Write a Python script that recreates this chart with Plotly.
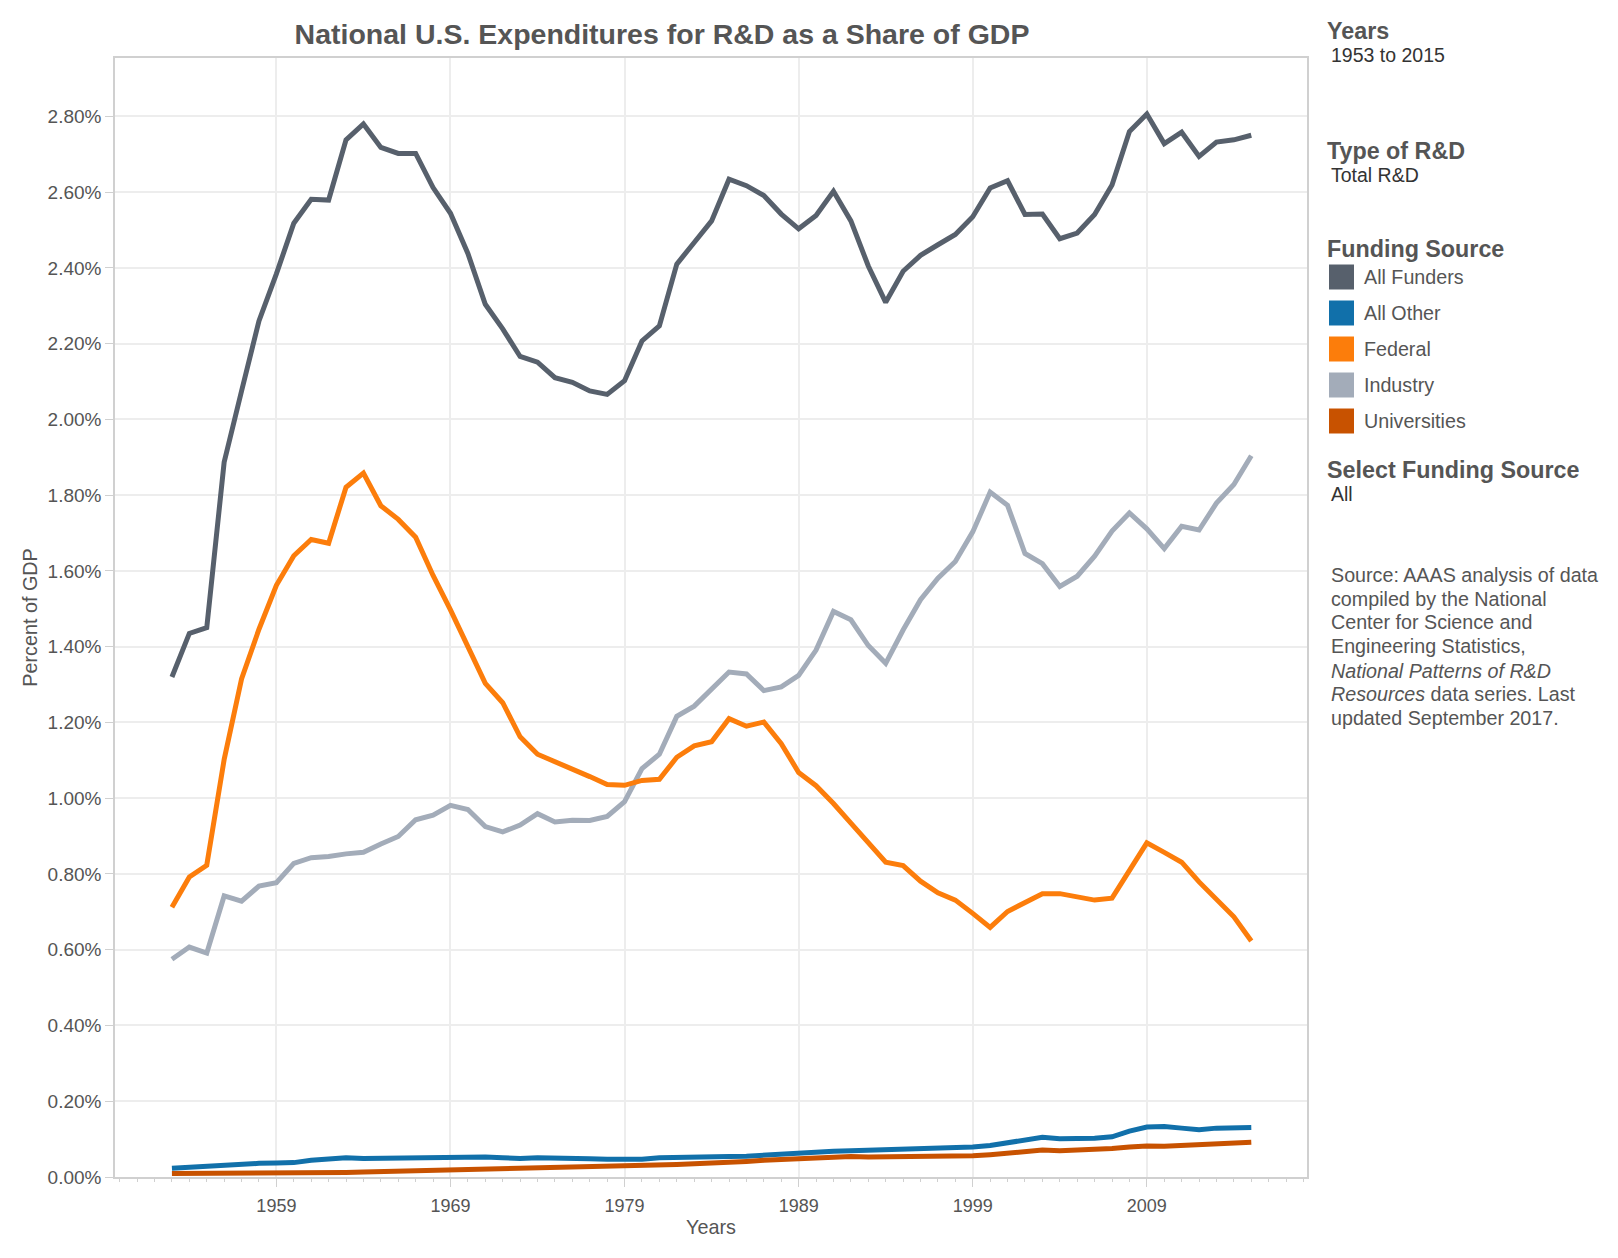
import plotly.graph_objects as go

# ---------------- data ----------------
years = list(range(1953, 2016))

all_funders = [1.32, 1.435, 1.45, 1.887, 2.075, 2.26, 2.384, 2.518, 2.581, 2.579,
               2.738, 2.78, 2.718, 2.702, 2.702, 2.612, 2.544, 2.438, 2.304, 2.239,
               2.166, 2.151, 2.11, 2.098, 2.075, 2.066, 2.102, 2.207, 2.247, 2.41,
               2.467, 2.524, 2.634, 2.617, 2.591, 2.542, 2.503, 2.538, 2.602, 2.524,
               2.405, 2.309, 2.391, 2.433, 2.461, 2.488, 2.535, 2.611, 2.63, 2.541,
               2.542, 2.477, 2.492, 2.541, 2.619, 2.76, 2.806, 2.728, 2.758, 2.694,
               2.732, 2.738, 2.75]

federal = [0.712, 0.792, 0.823, 1.102, 1.315, 1.446, 1.562, 1.64, 1.683, 1.673,
           1.821, 1.858, 1.772, 1.736, 1.689, 1.588, 1.497, 1.399, 1.303, 1.252,
           1.162, 1.116, 1.097, 1.078, 1.057, 1.036, 1.034, 1.047, 1.05, 1.108,
           1.138, 1.149, 1.21, 1.19, 1.201, 1.144, 1.068, 1.033, 0.986, 0.934,
           0.882, 0.831, 0.822, 0.781, 0.75, 0.731, 0.696, 0.659, 0.701, 0.726,
           0.748, 0.748, 0.739, 0.731, 0.736, 0.809, 0.882, 0.857, 0.831, 0.779,
           0.732, 0.687, 0.623]

industry = [0.575, 0.607, 0.591, 0.742, 0.728, 0.768, 0.777, 0.828, 0.843, 0.846,
            0.853, 0.857, 0.879, 0.899, 0.943, 0.955, 0.981, 0.97, 0.925, 0.911,
            0.929, 0.959, 0.937, 0.942, 0.941, 0.952, 0.991, 1.078, 1.116, 1.216,
            1.243, 1.288, 1.333, 1.328, 1.284, 1.294, 1.324, 1.391, 1.493, 1.471,
            1.403, 1.356, 1.444, 1.524, 1.581, 1.625, 1.703, 1.808, 1.773, 1.646,
            1.619, 1.559, 1.586, 1.639, 1.705, 1.753, 1.711, 1.659, 1.718, 1.708,
            1.779, 1.828, 1.904]

all_other = [0.023, 0.026, 0.026, 0.029, 0.032, 0.036, 0.037, 0.038, 0.044, 0.048,
             0.051, 0.049, 0.05, 0.05, 0.051, 0.05, 0.051, 0.054, 0.053, 0.051,
             0.049, 0.051, 0.049, 0.049, 0.048, 0.047, 0.047, 0.047, 0.051, 0.051,
             0.051, 0.053, 0.054, 0.055, 0.058, 0.061, 0.062, 0.065, 0.068, 0.069,
             0.07, 0.071, 0.073, 0.075, 0.075, 0.076, 0.079, 0.083, 0.09, 0.099,
             0.105, 0.101, 0.101, 0.102, 0.106, 0.121, 0.132, 0.133, 0.129, 0.125,
             0.129, 0.131, 0.131]

universities = [0.009, 0.009, 0.009, 0.01, 0.01, 0.01, 0.011, 0.011, 0.011, 0.011,
                0.012, 0.013, 0.014, 0.016, 0.018, 0.019, 0.02, 0.021, 0.022, 0.022,
                0.022, 0.023, 0.023, 0.024, 0.025, 0.027, 0.028, 0.03, 0.031, 0.033,
                0.035, 0.036, 0.038, 0.041, 0.044, 0.046, 0.048, 0.051, 0.054, 0.054,
                0.053, 0.053, 0.053, 0.054, 0.054, 0.055, 0.056, 0.059, 0.062, 0.068,
                0.071, 0.069, 0.07, 0.072, 0.075, 0.079, 0.082, 0.081, 0.083, 0.087,
                0.089, 0.091, 0.092]

series_names = ["All Funders", "All Other", "Federal", "Industry", "Universities"]
series_colors = ["#57606C", "#1170AA", "#FC7D0B", "#A3ACB9", "#C85200"]
series_values = [all_funders, all_other, federal, industry, universities]

title_text = "National U.S. Expenditures for R&D as a Share of GDP"
source_lines = [
    "Source: AAAS analysis of data",
    "compiled by the National",
    "Center for Science and",
    "Engineering Statistics,",
    "<i>National Patterns of R&D</i>",
    "<i>Resources</i> data series. Last",
    "updated September 2017.",
]

# ---------------- layout geometry ----------------
W, H = 1618, 1258
ML, MR, MT, MB = 115, 311, 58, 81
PW = W - ML - MR
PH = H - MT - MB


def pxx(x):
    return (x - ML) / PW


def pyy(y):
    return (H - MB - y) / PH


FONT = "Liberation Sans, Arial, Helvetica, sans-serif"
GRAY = "#555555"
DARK = "#333333"

fig = go.Figure()

draw_order = [0, 3, 2, 1, 4]
for i in draw_order:
    fig.add_trace(go.Scatter(
        x=years, y=series_values[i], name=series_names[i], mode="lines",
        line=dict(color=series_colors[i], width=5),
        showlegend=False,
        hovertemplate="%{x}: %{y:.2f}%<extra>" + series_names[i] + "</extra>",
    ))

annotations = []
shapes = []


def txt(x, y, s, size, color=GRAY, bold=False):
    if bold:
        s = "<b>" + s + "</b>"
    annotations.append(dict(
        x=pxx(x), y=pyy(y), xref="paper", yref="paper", text=s, showarrow=False,
        xanchor="left", yanchor="middle", align="left",
        font=dict(family=FONT, size=size, color=color)))


HEAD = 23.3
BODY = 19.7

txt(1325, 31, "Years", HEAD, GRAY, True)
txt(1329, 55, "1953 to 2015", 19.5, DARK)
txt(1325, 151, "Type of R&D", HEAD, GRAY, True)
txt(1329, 175, "Total R&D", 19.5, DARK)
txt(1325, 249, "Funding Source", HEAD, GRAY, True)

row_y = [277, 313, 349, 385, 421]
for name, col, yy in zip(series_names, series_colors, row_y):
    shapes.append(dict(type="rect", xref="paper", yref="paper",
                       x0=pxx(1329), x1=pxx(1354), y0=pyy(yy + 12.5), y1=pyy(yy - 12.5),
                       fillcolor=col, line=dict(width=0)))
    txt(1362, yy, name, BODY, GRAY)

txt(1325, 470, "Select Funding Source", HEAD, GRAY, True)
txt(1329, 494, "All", 19.5, DARK)

src_y = [575, 599, 622, 646, 671, 694, 718]
for line, yy in zip(source_lines, src_y):
    txt(1329, yy, line, BODY, GRAY)

fig.update_layout(
    width=W, height=H,
    margin=dict(l=ML, r=MR, t=MT, b=MB, pad=0),
    paper_bgcolor="white", plot_bgcolor="white",
    font=dict(family=FONT, color=GRAY),
    title=dict(text="<b>" + title_text + "</b>", x=662 / W, xanchor="center",
               y=1 - 34 / H, yanchor="middle", xref="container", yref="container",
               font=dict(family=FONT, size=28.5, color=GRAY)),
    annotations=annotations,
    shapes=shapes,
    showlegend=False,
)

fig.update_xaxes(
    range=[1949.73, 2018.2],
    tick0=1959, dtick=10, tickmode="linear",
    showgrid=True, gridcolor="#EDEDED", gridwidth=1.5,
    showline=True, linecolor="#D0D0D0", linewidth=1.5, mirror=True,
    ticks="outside", ticklen=8, tickcolor="#D0D0D0", tickwidth=1,
    tickfont=dict(family=FONT, size=18, color=GRAY),
    ticklabelstandoff=4,
    minor=dict(tick0=1959, dtick=1, ticks="outside", ticklen=3,
               tickcolor="#D0D0D0", tickwidth=1, showgrid=False),
    title=dict(text="Years", standoff=5, font=dict(family=FONT, size=19.8, color=GRAY)),
    zeroline=False,
)

fig.update_yaxes(
    range=[0, 2.954],
    tick0=0, dtick=0.2, tickmode="linear",
    tickformat=".2f", ticksuffix="%",
    showgrid=True, gridcolor="#EDEDED", gridwidth=1.5,
    showline=True, linecolor="#D0D0D0", linewidth=1.5, mirror=True,
    ticks="outside", ticklen=8, tickcolor="#D0D0D0", tickwidth=1,
    tickfont=dict(family=FONT, size=19, color=GRAY),
    title=dict(text="Percent of GDP", standoff=5, font=dict(family=FONT, size=19.8, color=GRAY)),
    zeroline=False,
)

fig.write_html("out.html")
